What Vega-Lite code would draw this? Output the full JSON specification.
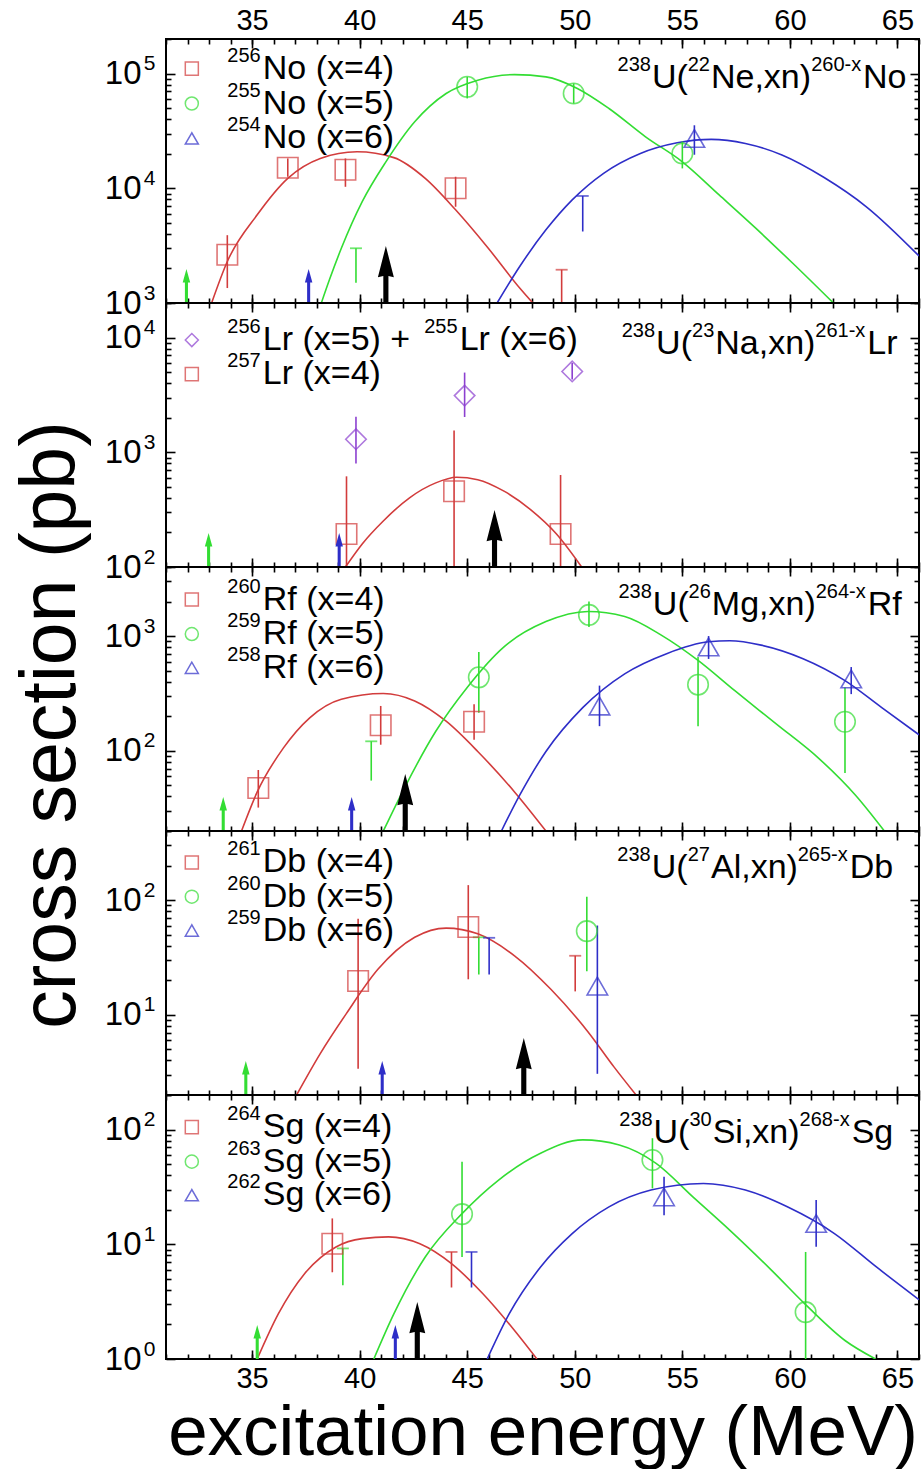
{
"$schema": "https://vega.github.io/schema/vega-lite/v6.json",
"background": "white",
"padding": {"left": 13, "top": 5, "right": 5, "bottom": 0},
"title": {"text": "cross section (pb)", "orient": "left", "anchor": "middle", "fontSize": 77, "font": "Liberation Sans", "fontWeight": "normal", "color": "black", "offset": 12, "dx": 12},
"spacing": 0,
"bounds": "flush",
"resolve": {"scale": {"x": "independent", "y": "independent", "color": "independent", "shape": "independent"}},
"config": {
  "view": {"stroke": "black", "strokeWidth": 2},
  "axis": {"labelFont": "Liberation Sans", "titleFont": "Liberation Sans", "labelColor": "black", "titleColor": "black", "tickColor": "black", "domain": false, "grid": false, "tickWidth": 1.6, "labelFlush": false, "labelOverlap": false, "titleFontWeight": "normal"},
  "text": {"font": "Liberation Sans", "color": "black"}
},
"datasets": {
"curves": [
{"p":1,"s":"r","E":33.12,"v":1000},{"p":1,"s":"r","E":33.85,"v":2300},{"p":1,"s":"r","E":35.24,"v":5870},{"p":1,"s":"r","E":36.66,"v":12200},{"p":1,"s":"r","E":38.17,"v":18200},{"p":1,"s":"r","E":39.88,"v":20800},{"p":1,"s":"r","E":41.59,"v":18500},{"p":1,"s":"r","E":43.05,"v":12200},{"p":1,"s":"r","E":44.46,"v":6490},{"p":1,"s":"r","E":45.98,"v":3000},{"p":1,"s":"r","E":47.44,"v":1350},{"p":1,"s":"r","E":48.05,"v":1000},
{"p":1,"s":"g","E":38.22,"v":1000},{"p":1,"s":"g","E":38.6,"v":1600},{"p":1,"s":"g","E":39.15,"v":3000},{"p":1,"s":"g","E":40.12,"v":7650},{"p":1,"s":"g","E":41.22,"v":17000},{"p":1,"s":"g","E":42.56,"v":38000},{"p":1,"s":"g","E":44.02,"v":67000},{"p":1,"s":"g","E":45.49,"v":87500},{"p":1,"s":"g","E":47.2,"v":97900},{"p":1,"s":"g","E":48.66,"v":93500},{"p":1,"s":"g","E":50.12,"v":74100},{"p":1,"s":"g","E":51.59,"v":49600},{"p":1,"s":"g","E":53.29,"v":28100},{"p":1,"s":"g","E":55.0,"v":17000},{"p":1,"s":"g","E":56.71,"v":8750},{"p":1,"s":"g","E":58.41,"v":4490},{"p":1,"s":"g","E":60.12,"v":2230},{"p":1,"s":"g","E":62.02,"v":1000},
{"p":1,"s":"b","E":46.39,"v":1000},{"p":1,"s":"b","E":47.44,"v":2080},{"p":1,"s":"b","E":48.66,"v":4340},{"p":1,"s":"b","E":49.88,"v":7920},{"p":1,"s":"b","E":51.34,"v":13500},{"p":1,"s":"b","E":53.05,"v":20100},{"p":1,"s":"b","E":54.76,"v":24900},{"p":1,"s":"b","E":56.34,"v":26700},{"p":1,"s":"b","E":57.93,"v":24600},{"p":1,"s":"b","E":59.63,"v":19500},{"p":1,"s":"b","E":61.59,"v":12400},{"p":1,"s":"b","E":63.54,"v":6930},{"p":1,"s":"b","E":66.0,"v":2570},
{"p":2,"s":"r","E":39.34,"v":100},{"p":2,"s":"r","E":40.12,"v":159},{"p":2,"s":"r","E":41.1,"v":252},{"p":2,"s":"r","E":42.32,"v":401},{"p":2,"s":"r","E":43.54,"v":541},{"p":2,"s":"r","E":44.51,"v":605},{"p":2,"s":"r","E":45.49,"v":577},{"p":2,"s":"r","E":46.71,"v":458},{"p":2,"s":"r","E":47.93,"v":318},{"p":2,"s":"r","E":49.15,"v":194},{"p":2,"s":"r","E":50.32,"v":100},
{"p":3,"s":"r","E":34.51,"v":20},{"p":3,"s":"r","E":35.24,"v":43.8},{"p":3,"s":"r","E":36.46,"v":106},{"p":3,"s":"r","E":37.68,"v":194},{"p":3,"s":"r","E":39.15,"v":282},{"p":3,"s":"r","E":41.1,"v":316},{"p":3,"s":"r","E":42.56,"v":272},{"p":3,"s":"r","E":44.02,"v":181},{"p":3,"s":"r","E":45.49,"v":98.7},{"p":3,"s":"r","E":47.2,"v":43.8},{"p":3,"s":"r","E":48.66,"v":20},
{"p":3,"s":"g","E":41.1,"v":20},{"p":3,"s":"g","E":42.07,"v":46.9},{"p":3,"s":"g","E":43.54,"v":148},{"p":3,"s":"g","E":45.0,"v":357},{"p":3,"s":"g","E":46.71,"v":806},{"p":3,"s":"g","E":48.66,"v":1337},{"p":3,"s":"g","E":50.61,"v":1640},{"p":3,"s":"g","E":52.32,"v":1483},{"p":3,"s":"g","E":54.02,"v":1020},{"p":3,"s":"g","E":55.73,"v":614},{"p":3,"s":"g","E":57.44,"v":334},{"p":3,"s":"g","E":59.39,"v":170},{"p":3,"s":"g","E":61.34,"v":86},{"p":3,"s":"g","E":63.05,"v":41},{"p":3,"s":"g","E":64.39,"v":20},
{"p":3,"s":"b","E":46.59,"v":20},{"p":3,"s":"b","E":47.44,"v":41},{"p":3,"s":"b","E":48.66,"v":98.7},{"p":3,"s":"b","E":50.37,"v":238},{"p":3,"s":"b","E":52.32,"v":469},{"p":3,"s":"b","E":54.27,"v":703},{"p":3,"s":"b","E":56.22,"v":891},{"p":3,"s":"b","E":57.2,"v":910},{"p":3,"s":"b","E":58.66,"v":834},{"p":3,"s":"b","E":60.61,"v":635},{"p":3,"s":"b","E":62.56,"v":409},{"p":3,"s":"b","E":64.27,"v":238},{"p":3,"s":"b","E":66.0,"v":138},
{"p":4,"s":"r","E":37.07,"v":2},{"p":4,"s":"r","E":38.17,"v":4.59},{"p":4,"s":"r","E":39.39,"v":10.3},{"p":4,"s":"r","E":40.85,"v":24.9},{"p":4,"s":"r","E":42.56,"v":47.4},{"p":4,"s":"r","E":44.02,"v":57},{"p":4,"s":"r","E":45.49,"v":50.8},{"p":4,"s":"r","E":47.2,"v":32.7},{"p":4,"s":"r","E":48.9,"v":16.6},{"p":4,"s":"r","E":50.61,"v":7.13},{"p":4,"s":"r","E":51.83,"v":3.5},{"p":4,"s":"r","E":52.85,"v":2},
{"p":5,"s":"r","E":35.24,"v":1},{"p":5,"s":"r","E":36.22,"v":2.47},{"p":5,"s":"r","E":37.44,"v":5.54},{"p":5,"s":"r","E":38.9,"v":9.48},{"p":5,"s":"r","E":40.12,"v":11.2},{"p":5,"s":"r","E":41.34,"v":11.6},{"p":5,"s":"r","E":42.8,"v":10.1},{"p":5,"s":"r","E":44.27,"v":6.78},{"p":5,"s":"r","E":45.73,"v":3.7},{"p":5,"s":"r","E":47.2,"v":1.77},{"p":5,"s":"r","E":48.24,"v":1},
{"p":5,"s":"g","E":40.66,"v":1},{"p":5,"s":"g","E":41.59,"v":2.47},{"p":5,"s":"g","E":43.05,"v":7.75},{"p":5,"s":"g","E":44.76,"v":18.5},{"p":5,"s":"g","E":46.46,"v":36.3},{"p":5,"s":"g","E":48.41,"v":62.1},{"p":5,"s":"g","E":50.37,"v":81.2},{"p":5,"s":"g","E":52.07,"v":73.4},{"p":5,"s":"g","E":53.78,"v":50.8},{"p":5,"s":"g","E":55.49,"v":25.9},{"p":5,"s":"g","E":57.2,"v":13.3},{"p":5,"s":"g","E":59.15,"v":5.93},{"p":5,"s":"g","E":60.85,"v":2.83},{"p":5,"s":"g","E":62.56,"v":1.45},{"p":5,"s":"g","E":63.98,"v":1},
{"p":5,"s":"b","E":45.93,"v":1},{"p":5,"s":"b","E":46.95,"v":2.47},{"p":5,"s":"b","E":48.41,"v":6.34},{"p":5,"s":"b","E":49.88,"v":12.4},{"p":5,"s":"b","E":51.59,"v":21.2},{"p":5,"s":"b","E":53.54,"v":29.7},{"p":5,"s":"b","E":55.98,"v":33.9},{"p":5,"s":"b","E":57.93,"v":29.7},{"p":5,"s":"b","E":59.88,"v":21.2},{"p":5,"s":"b","E":62.07,"v":12.4},{"p":5,"s":"b","E":64.02,"v":6.34},{"p":5,"s":"b","E":66.0,"v":3.29}
],
"points": [
{"p":1,"s":"r","E":33.85,"v":2630,"lo":1350,"hi":3900},{"p":1,"s":"r","E":36.66,"v":15100,"lo":12600,"hi":18200},{"p":1,"s":"r","E":39.34,"v":14500,"lo":10300,"hi":18200},{"p":1,"s":"r","E":44.46,"v":10000,"lo":6900,"hi":12600},
{"p":1,"s":"g","E":45.0,"v":76600,"lo":60700,"hi":93500},{"p":1,"s":"g","E":49.95,"v":67000,"lo":54800,"hi":81800},{"p":1,"s":"g","E":55.0,"v":20100,"lo":14900,"hi":25500},
{"p":1,"s":"b","E":55.56,"v":27200,"lo":19600,"hi":35400},
{"p":2,"s":"p","E":39.83,"v":1300,"lo":800,"hi":2040},{"p":2,"s":"p","E":44.88,"v":3120,"lo":2030,"hi":4950},{"p":2,"s":"p","E":49.88,"v":5060,"lo":4300,"hi":6000},
{"p":2,"s":"r","E":39.39,"v":194,"lo":100,"hi":617},{"p":2,"s":"r","E":44.39,"v":458,"lo":100,"hi":1550},{"p":2,"s":"r","E":49.34,"v":194,"lo":100,"hi":634},
{"p":3,"s":"r","E":35.29,"v":47.4,"lo":32,"hi":68},{"p":3,"s":"r","E":40.98,"v":167,"lo":113,"hi":246},{"p":3,"s":"r","E":45.32,"v":179,"lo":125,"hi":255},
{"p":3,"s":"g","E":45.54,"v":437,"lo":215,"hi":728},{"p":3,"s":"g","E":50.66,"v":1530,"lo":1200,"hi":2000},{"p":3,"s":"g","E":55.73,"v":377,"lo":164,"hi":658},{"p":3,"s":"g","E":62.56,"v":179,"lo":64,"hi":357},
{"p":3,"s":"b","E":51.15,"v":246,"lo":164,"hi":370},{"p":3,"s":"b","E":56.22,"v":805,"lo":632,"hi":1000},{"p":3,"s":"b","E":62.85,"v":423,"lo":312,"hi":537},
{"p":4,"s":"r","E":39.93,"v":19.7,"lo":3.38,"hi":68.9},{"p":4,"s":"r","E":45.05,"v":58.2,"lo":20.4,"hi":135},
{"p":4,"s":"g","E":50.56,"v":53.6,"lo":24,"hi":107},
{"p":4,"s":"b","E":51.05,"v":17.8,"lo":3.06,"hi":60},
{"p":5,"s":"r","E":38.73,"v":10.1,"lo":5.7,"hi":16.8},
{"p":5,"s":"g","E":44.76,"v":18.3,"lo":7.75,"hi":52.5},{"p":5,"s":"g","E":53.61,"v":54.3,"lo":30.7,"hi":84},{"p":5,"s":"g","E":60.73,"v":2.56,"lo":1,"hi":8.57},
{"p":5,"s":"b","E":54.15,"v":25.9,"lo":17.9,"hi":38.8},{"p":5,"s":"b","E":61.22,"v":15.2,"lo":9.5,"hi":24.3}
],
"limits": [
{"p":1,"s":"r","E":49.39,"lo":1000,"hi":1950},{"p":1,"s":"g","E":39.83,"lo":1500,"hi":3000},{"p":1,"s":"b","E":50.37,"lo":4200,"hi":8570},
{"p":3,"s":"g","E":40.54,"lo":55,"hi":121},
{"p":4,"s":"r","E":50.02,"lo":16,"hi":32.7},{"p":4,"s":"g","E":45.54,"lo":22.5,"hi":47.4},{"p":4,"s":"b","E":46.02,"lo":22.5,"hi":46.9},
{"p":5,"s":"r","E":44.27,"lo":4.2,"hi":8.57},{"p":5,"s":"g","E":39.22,"lo":4.4,"hi":9.2},{"p":5,"s":"b","E":45.2,"lo":4.2,"hi":8.57}
],
"arrows": [
{"p":1,"s":"g","E":31.95},{"p":1,"s":"b","E":37.63},{"p":1,"s":"k","E":41.22},
{"p":2,"s":"g","E":32.98},{"p":2,"s":"b","E":39.05},{"p":2,"s":"k","E":46.27},
{"p":3,"s":"g","E":33.66},{"p":3,"s":"b","E":39.63},{"p":3,"s":"k","E":42.12},
{"p":4,"s":"g","E":34.71},{"p":4,"s":"b","E":41.05},{"p":4,"s":"k","E":47.63},
{"p":5,"s":"g","E":35.24},{"p":5,"s":"b","E":41.66},{"p":5,"s":"k","E":42.68}
],
"legend": [
{"p":1,"s":"r","v":110400},{"p":1,"s":"g","v":54800},{"p":1,"s":"b","v":27200},
{"p":2,"s":"p","v":9500},{"p":2,"s":"r","v":4800},
{"p":3,"s":"r","v":2080},{"p":3,"s":"g","v":1042},{"p":3,"s":"b","v":529},
{"p":4,"s":"r","v":213},{"p":4,"s":"g","v":107},{"p":4,"s":"b","v":54.3},
{"p":5,"s":"r","v":105},{"p":5,"s":"g","v":52.5},{"p":5,"s":"b","v":26.8}
],
"texts": [
{"p":1,"u":1,"E":33.85,"v":110400,"t":"256"},{"p":1,"u":0,"E":35.5,"v":110400,"t":"No (x=4)"},
{"p":1,"u":1,"E":33.85,"v":54800,"t":"255"},{"p":1,"u":0,"E":35.5,"v":54800,"t":"No (x=5)"},
{"p":1,"u":1,"E":33.85,"v":27200,"t":"254"},{"p":1,"u":0,"E":35.5,"v":27200,"t":"No (x=6)"},
{"p":1,"u":1,"E":51.99,"v":90600,"t":"238"},{"p":1,"u":0,"E":53.59,"v":90600,"t":"U("},{"p":1,"u":1,"E":55.25,"v":90600,"t":"22"},{"p":1,"u":0,"E":56.33,"v":90600,"t":"Ne,xn)"},{"p":1,"u":1,"E":60.99,"v":90600,"t":"260-x"},{"p":1,"u":0,"E":63.4,"v":90600,"t":"No"},
{"p":2,"u":1,"E":33.85,"v":9500,"t":"256"},{"p":2,"u":0,"E":35.5,"v":9500,"t":"Lr (x=5) +"},{"p":2,"u":1,"E":43.0,"v":9500,"t":"255"},{"p":2,"u":0,"E":44.65,"v":9500,"t":"Lr (x=6)"},
{"p":2,"u":1,"E":33.85,"v":4800,"t":"257"},{"p":2,"u":0,"E":35.5,"v":4800,"t":"Lr (x=4)"},
{"p":2,"u":1,"E":52.18,"v":8710,"t":"238"},{"p":2,"u":0,"E":53.78,"v":8710,"t":"U("},{"p":2,"u":1,"E":55.45,"v":8710,"t":"23"},{"p":2,"u":0,"E":56.53,"v":8710,"t":"Na,xn)"},{"p":2,"u":1,"E":61.18,"v":8710,"t":"261-x"},{"p":2,"u":0,"E":63.6,"v":8710,"t":"Lr"},
{"p":3,"u":1,"E":33.85,"v":2080,"t":"260"},{"p":3,"u":0,"E":35.5,"v":2080,"t":"Rf (x=4)"},
{"p":3,"u":1,"E":33.85,"v":1042,"t":"259"},{"p":3,"u":0,"E":35.5,"v":1042,"t":"Rf (x=5)"},
{"p":3,"u":1,"E":33.85,"v":529,"t":"258"},{"p":3,"u":0,"E":35.5,"v":529,"t":"Rf (x=6)"},
{"p":3,"u":1,"E":52.03,"v":1880,"t":"238"},{"p":3,"u":0,"E":53.63,"v":1880,"t":"U("},{"p":3,"u":1,"E":55.29,"v":1880,"t":"26"},{"p":3,"u":0,"E":56.37,"v":1880,"t":"Mg,xn)"},{"p":3,"u":1,"E":61.2,"v":1880,"t":"264-x"},{"p":3,"u":0,"E":63.62,"v":1880,"t":"Rf"},
{"p":4,"u":1,"E":33.85,"v":213,"t":"261"},{"p":4,"u":0,"E":35.5,"v":213,"t":"Db (x=4)"},
{"p":4,"u":1,"E":33.85,"v":107,"t":"260"},{"p":4,"u":0,"E":35.5,"v":107,"t":"Db (x=5)"},
{"p":4,"u":1,"E":33.85,"v":54.3,"t":"259"},{"p":4,"u":0,"E":35.5,"v":54.3,"t":"Db (x=6)"},
{"p":4,"u":1,"E":51.98,"v":190,"t":"238"},{"p":4,"u":0,"E":53.58,"v":190,"t":"U("},{"p":4,"u":1,"E":55.25,"v":190,"t":"27"},{"p":4,"u":0,"E":56.33,"v":190,"t":"Al,xn)"},{"p":4,"u":1,"E":60.36,"v":190,"t":"265-x"},{"p":4,"u":0,"E":62.78,"v":190,"t":"Db"},
{"p":5,"u":1,"E":33.85,"v":105,"t":"264"},{"p":5,"u":0,"E":35.5,"v":105,"t":"Sg (x=4)"},
{"p":5,"u":1,"E":33.85,"v":52.5,"t":"263"},{"p":5,"u":0,"E":35.5,"v":52.5,"t":"Sg (x=5)"},
{"p":5,"u":1,"E":33.85,"v":26.8,"t":"262"},{"p":5,"u":0,"E":35.5,"v":26.8,"t":"Sg (x=6)"},
{"p":5,"u":1,"E":52.07,"v":92.9,"t":"238"},{"p":5,"u":0,"E":53.66,"v":92.9,"t":"U("},{"p":5,"u":1,"E":55.33,"v":92.9,"t":"30"},{"p":5,"u":0,"E":56.41,"v":92.9,"t":"Si,xn)"},{"p":5,"u":1,"E":60.45,"v":92.9,"t":"268-x"},{"p":5,"u":0,"E":62.87,"v":92.9,"t":"Sg"}
]
},
"vconcat": [
{
 "width": 753, "height": 264,
 "resolve": {"axis": {"x": "independent", "y": "independent"}},
 "layer": [
  {"data": {"name": "curves"}, "transform": [{"filter": "datum.p == 1"}],
   "mark": {"type": "line", "interpolate": "monotone", "strokeWidth": 1.6, "clip": true},
   "encoding": {
    "x": {"field": "E", "type": "quantitative", "scale": {"domain": [31, 66], "nice": false, "zero": false}, "axis": {"orient": "bottom", "values": [35,40,45,50,55,60,65], "tickSize": -9, "labels": false, "title": null}},
    "y": {"field": "v", "type": "quantitative", "scale": {"type": "log", "domain": [1000, 200000], "nice": false}, "axis": {"orient": "left", "values": [1000,10000,100000], "tickSize": -9, "labelPadding": 34, "labelFontSize": 33, "labelExpr": "'10'", "title": null}},
    "color": {"field": "s", "type": "nominal", "scale": {"domain": ["r","g","b","p","k"], "range": ["#d23c3c","#33dd33","#2e2ec8","#8c40d0","#000000"]}, "legend": null}}},
  {"data": {"name": "points"}, "transform": [{"filter": "datum.p == 1"}],
   "mark": {"type": "rule", "strokeWidth": 1.6},
   "encoding": {
    "x": {"field": "E", "type": "quantitative", "scale": {"domain": [31, 66], "nice": false, "zero": false}, "axis": {"orient": "bottom", "values": [31,32,33,34,35,36,37,38,39,40,41,42,43,44,45,46,47,48,49,50,51,52,53,54,55,56,57,58,59,60,61,62,63,64,65,66], "tickSize": -5, "labels": false, "title": null}},
    "y": {"field": "lo", "type": "quantitative", "scale": {"type": "log", "domain": [1000, 200000], "nice": false}, "axis": {"orient": "left", "values": [2000,3000,4000,5000,6000,7000,8000,9000,20000,30000,40000,50000,60000,70000,80000,90000,200000], "tickSize": -5, "labels": false, "title": null}},
    "y2": {"field": "hi"},
    "color": {"field": "s", "type": "nominal", "scale": {"domain": ["r","g","b","p","k"], "range": ["#d23c3c","#33dd33","#2e2ec8","#8c40d0","#000000"]}, "legend": null}}},
  {"data": {"name": "limits"}, "transform": [{"filter": "datum.p == 1"}],
   "mark": {"type": "rule", "strokeWidth": 1.6},
   "encoding": {
    "x": {"field": "E", "type": "quantitative", "scale": {"domain": [31, 66], "nice": false, "zero": false}, "axis": {"orient": "top", "values": [35,40,45,50,55,60,65], "tickSize": -9, "labelFontSize": 29, "labelPadding": 13, "title": null}},
    "y": {"field": "lo", "type": "quantitative", "scale": {"type": "log", "domain": [1000, 200000], "nice": false}, "axis": {"orient": "right", "values": [1000,10000,100000], "tickSize": -9, "labels": false, "title": null}},
    "y2": {"field": "hi"},
    "color": {"field": "s", "type": "nominal", "scale": {"domain": ["r","g","b","p","k"], "range": ["#d23c3c","#33dd33","#2e2ec8","#8c40d0","#000000"]}, "legend": null}}},
  {"data": {"name": "limits"}, "transform": [{"filter": "datum.p == 1"}],
   "mark": {"type": "tick", "orient": "horizontal", "size": 12, "thickness": 1.8},
   "encoding": {
    "x": {"field": "E", "type": "quantitative", "scale": {"domain": [31, 66], "nice": false, "zero": false}, "axis": {"orient": "top", "values": [31,32,33,34,35,36,37,38,39,40,41,42,43,44,45,46,47,48,49,50,51,52,53,54,55,56,57,58,59,60,61,62,63,64,65,66], "tickSize": -5, "labels": false, "title": null}},
    "y": {"field": "hi", "type": "quantitative", "scale": {"type": "log", "domain": [1000, 200000], "nice": false}, "axis": {"orient": "right", "values": [2000,3000,4000,5000,6000,7000,8000,9000,20000,30000,40000,50000,60000,70000,80000,90000,200000], "tickSize": -5, "labels": false, "title": null}},
    "color": {"field": "s", "type": "nominal", "scale": {"domain": ["r","g","b","p","k"], "range": ["#d23c3c","#33dd33","#2e2ec8","#8c40d0","#000000"]}, "legend": null}}},
  {"data": {"name": "points"}, "transform": [{"filter": "datum.p == 1"}],
   "mark": {"type": "point", "filled": false, "strokeWidth": 1.6, "size": 420},
   "encoding": {
    "x": {"field": "E", "type": "quantitative", "scale": {"domain": [31, 66], "nice": false, "zero": false}, "axis": null},
    "y": {"field": "v", "type": "quantitative", "scale": {"type": "log", "domain": [1000, 200000], "nice": false}, "axis": {"orient": "left", "values": [1000,10000,100000], "ticks": false, "tickSize": 0, "labelPadding": 11, "labelFontSize": 21, "labelOffset": -10, "labelExpr": "'' + round(log(datum.value)/LN10)", "title": null}},
    "shape": {"field": "s", "type": "nominal", "scale": {"domain": ["r","g","b","p"], "range": ["square","circle","triangle-up","diamond"]}, "legend": null},
    "color": {"field": "s", "type": "nominal", "scale": {"domain": ["r","g","b","p","k"], "range": ["#d23c3c","#33dd33","#2e2ec8","#8c40d0","#000000"]}, "legend": null}}},
  {"data": {"name": "arrows"}, "transform": [{"filter": "datum.p == 1"}],
   "mark": {"type": "point", "filled": true, "opacity": 1, "strokeWidth": 0},
   "encoding": {
    "x": {"field": "E", "type": "quantitative", "scale": {"domain": [31, 66], "nice": false, "zero": false}, "axis": null},
    "y": {"datum": 1000, "type": "quantitative", "scale": {"type": "log", "domain": [1000, 200000], "nice": false}, "axis": null},
    "shape": {"condition": {"test": "datum.s == 'k'", "value": "M0,-2L0.28,-0.9L0.09,-0.95L0.09,0L-0.09,0L-0.09,-0.95L-0.28,-0.9Z"}, "value": "M0,-2L0.22,-1.2L0.09,-1.2L0.09,0L-0.09,0L-0.09,-1.2L-0.22,-1.2Z"},
    "size": {"condition": {"test": "datum.s == 'k'", "value": 3249}, "value": 1156},
    "color": {"field": "s", "type": "nominal", "scale": {"domain": ["r","g","b","p","k"], "range": ["#d23c3c","#33dd33","#2e2ec8","#8c40d0","#000000"]}, "legend": null}}},
  {"data": {"name": "legend"}, "transform": [{"filter": "datum.p == 1"}],
   "mark": {"type": "point", "filled": false, "strokeWidth": 1.5, "size": 170},
   "encoding": {
    "x": {"datum": 32.2, "type": "quantitative", "scale": {"domain": [31, 66], "nice": false, "zero": false}, "axis": null},
    "y": {"field": "v", "type": "quantitative", "scale": {"type": "log", "domain": [1000, 200000], "nice": false}, "axis": null},
    "shape": {"field": "s", "type": "nominal", "scale": {"domain": ["r","g","b","p"], "range": ["square","circle","triangle-up","diamond"]}, "legend": null},
    "color": {"field": "s", "type": "nominal", "scale": {"domain": ["r","g","b","p","k"], "range": ["#d23c3c","#33dd33","#2e2ec8","#8c40d0","#000000"]}, "legend": null}}},
  {"data": {"name": "texts"}, "transform": [{"filter": "datum.p == 1 && datum.u == 0"}],
   "mark": {"type": "text", "align": "left", "baseline": "middle", "fontSize": 34},
   "encoding": {
    "x": {"field": "E", "type": "quantitative", "scale": {"domain": [31, 66], "nice": false, "zero": false}, "axis": null},
    "y": {"field": "v", "type": "quantitative", "scale": {"type": "log", "domain": [1000, 200000], "nice": false}, "axis": null},
    "text": {"field": "t"}}},
  {"data": {"name": "texts"}, "transform": [{"filter": "datum.p == 1 && datum.u == 1"}],
   "mark": {"type": "text", "align": "left", "baseline": "middle", "fontSize": 20, "dy": -13},
   "encoding": {
    "x": {"field": "E", "type": "quantitative", "scale": {"domain": [31, 66], "nice": false, "zero": false}, "axis": null},
    "y": {"field": "v", "type": "quantitative", "scale": {"type": "log", "domain": [1000, 200000], "nice": false}, "axis": null},
    "text": {"field": "t"}}}
 ]
},
{
 "width": 753, "height": 264,
 "resolve": {"axis": {"x": "independent", "y": "independent"}},
 "layer": [
  {"data": {"name": "curves"}, "transform": [{"filter": "datum.p == 2"}],
   "mark": {"type": "line", "interpolate": "monotone", "strokeWidth": 1.6, "clip": true},
   "encoding": {
    "x": {"field": "E", "type": "quantitative", "scale": {"domain": [31, 66], "nice": false, "zero": false}, "axis": {"orient": "bottom", "values": [35,40,45,50,55,60,65], "tickSize": -9, "labels": false, "title": null}},
    "y": {"field": "v", "type": "quantitative", "scale": {"type": "log", "domain": [100, 20000], "nice": false}, "axis": {"orient": "left", "values": [100,1000,10000], "tickSize": -9, "labelPadding": 34, "labelFontSize": 33, "labelExpr": "'10'", "title": null}},
    "color": {"field": "s", "type": "nominal", "scale": {"domain": ["r","g","b","p","k"], "range": ["#d23c3c","#33dd33","#2e2ec8","#8c40d0","#000000"]}, "legend": null}}},
  {"data": {"name": "points"}, "transform": [{"filter": "datum.p == 2"}],
   "mark": {"type": "rule", "strokeWidth": 1.6},
   "encoding": {
    "x": {"field": "E", "type": "quantitative", "scale": {"domain": [31, 66], "nice": false, "zero": false}, "axis": {"orient": "bottom", "values": [31,32,33,34,35,36,37,38,39,40,41,42,43,44,45,46,47,48,49,50,51,52,53,54,55,56,57,58,59,60,61,62,63,64,65,66], "tickSize": -5, "labels": false, "title": null}},
    "y": {"field": "lo", "type": "quantitative", "scale": {"type": "log", "domain": [100, 20000], "nice": false}, "axis": {"orient": "left", "values": [200,300,400,500,600,700,800,900,2000,3000,4000,5000,6000,7000,8000,9000,20000], "tickSize": -5, "labels": false, "title": null}},
    "y2": {"field": "hi"},
    "color": {"field": "s", "type": "nominal", "scale": {"domain": ["r","g","b","p","k"], "range": ["#d23c3c","#33dd33","#2e2ec8","#8c40d0","#000000"]}, "legend": null}}},
  {"data": {"name": "limits"}, "transform": [{"filter": "datum.p == 2"}],
   "mark": {"type": "rule", "strokeWidth": 1.6},
   "encoding": {
    "x": {"field": "E", "type": "quantitative", "scale": {"domain": [31, 66], "nice": false, "zero": false}, "axis": {"orient": "top", "values": [35,40,45,50,55,60,65], "tickSize": -9, "labels": false, "title": null}},
    "y": {"field": "lo", "type": "quantitative", "scale": {"type": "log", "domain": [100, 20000], "nice": false}, "axis": {"orient": "right", "values": [100,1000,10000], "tickSize": -9, "labels": false, "title": null}},
    "y2": {"field": "hi"},
    "color": {"field": "s", "type": "nominal", "scale": {"domain": ["r","g","b","p","k"], "range": ["#d23c3c","#33dd33","#2e2ec8","#8c40d0","#000000"]}, "legend": null}}},
  {"data": {"name": "limits"}, "transform": [{"filter": "datum.p == 2"}],
   "mark": {"type": "tick", "orient": "horizontal", "size": 12, "thickness": 1.8},
   "encoding": {
    "x": {"field": "E", "type": "quantitative", "scale": {"domain": [31, 66], "nice": false, "zero": false}, "axis": {"orient": "top", "values": [31,32,33,34,35,36,37,38,39,40,41,42,43,44,45,46,47,48,49,50,51,52,53,54,55,56,57,58,59,60,61,62,63,64,65,66], "tickSize": -5, "labels": false, "title": null}},
    "y": {"field": "hi", "type": "quantitative", "scale": {"type": "log", "domain": [100, 20000], "nice": false}, "axis": {"orient": "right", "values": [200,300,400,500,600,700,800,900,2000,3000,4000,5000,6000,7000,8000,9000,20000], "tickSize": -5, "labels": false, "title": null}},
    "color": {"field": "s", "type": "nominal", "scale": {"domain": ["r","g","b","p","k"], "range": ["#d23c3c","#33dd33","#2e2ec8","#8c40d0","#000000"]}, "legend": null}}},
  {"data": {"name": "points"}, "transform": [{"filter": "datum.p == 2"}],
   "mark": {"type": "point", "filled": false, "strokeWidth": 1.6, "size": 420},
   "encoding": {
    "x": {"field": "E", "type": "quantitative", "scale": {"domain": [31, 66], "nice": false, "zero": false}, "axis": null},
    "y": {"field": "v", "type": "quantitative", "scale": {"type": "log", "domain": [100, 20000], "nice": false}, "axis": {"orient": "left", "values": [100,1000,10000], "ticks": false, "tickSize": 0, "labelPadding": 11, "labelFontSize": 21, "labelOffset": -10, "labelExpr": "'' + round(log(datum.value)/LN10)", "title": null}},
    "shape": {"field": "s", "type": "nominal", "scale": {"domain": ["r","g","b","p"], "range": ["square","circle","triangle-up","diamond"]}, "legend": null},
    "color": {"field": "s", "type": "nominal", "scale": {"domain": ["r","g","b","p","k"], "range": ["#d23c3c","#33dd33","#2e2ec8","#8c40d0","#000000"]}, "legend": null}}},
  {"data": {"name": "arrows"}, "transform": [{"filter": "datum.p == 2"}],
   "mark": {"type": "point", "filled": true, "opacity": 1, "strokeWidth": 0},
   "encoding": {
    "x": {"field": "E", "type": "quantitative", "scale": {"domain": [31, 66], "nice": false, "zero": false}, "axis": null},
    "y": {"datum": 100, "type": "quantitative", "scale": {"type": "log", "domain": [100, 20000], "nice": false}, "axis": null},
    "shape": {"condition": {"test": "datum.s == 'k'", "value": "M0,-2L0.28,-0.9L0.09,-0.95L0.09,0L-0.09,0L-0.09,-0.95L-0.28,-0.9Z"}, "value": "M0,-2L0.22,-1.2L0.09,-1.2L0.09,0L-0.09,0L-0.09,-1.2L-0.22,-1.2Z"},
    "size": {"condition": {"test": "datum.s == 'k'", "value": 3249}, "value": 1156},
    "color": {"field": "s", "type": "nominal", "scale": {"domain": ["r","g","b","p","k"], "range": ["#d23c3c","#33dd33","#2e2ec8","#8c40d0","#000000"]}, "legend": null}}},
  {"data": {"name": "legend"}, "transform": [{"filter": "datum.p == 2"}],
   "mark": {"type": "point", "filled": false, "strokeWidth": 1.5, "size": 170},
   "encoding": {
    "x": {"datum": 32.2, "type": "quantitative", "scale": {"domain": [31, 66], "nice": false, "zero": false}, "axis": null},
    "y": {"field": "v", "type": "quantitative", "scale": {"type": "log", "domain": [100, 20000], "nice": false}, "axis": null},
    "shape": {"field": "s", "type": "nominal", "scale": {"domain": ["r","g","b","p"], "range": ["square","circle","triangle-up","diamond"]}, "legend": null},
    "color": {"field": "s", "type": "nominal", "scale": {"domain": ["r","g","b","p","k"], "range": ["#d23c3c","#33dd33","#2e2ec8","#8c40d0","#000000"]}, "legend": null}}},
  {"data": {"name": "texts"}, "transform": [{"filter": "datum.p == 2 && datum.u == 0"}],
   "mark": {"type": "text", "align": "left", "baseline": "middle", "fontSize": 34},
   "encoding": {
    "x": {"field": "E", "type": "quantitative", "scale": {"domain": [31, 66], "nice": false, "zero": false}, "axis": null},
    "y": {"field": "v", "type": "quantitative", "scale": {"type": "log", "domain": [100, 20000], "nice": false}, "axis": null},
    "text": {"field": "t"}}},
  {"data": {"name": "texts"}, "transform": [{"filter": "datum.p == 2 && datum.u == 1"}],
   "mark": {"type": "text", "align": "left", "baseline": "middle", "fontSize": 20, "dy": -13},
   "encoding": {
    "x": {"field": "E", "type": "quantitative", "scale": {"domain": [31, 66], "nice": false, "zero": false}, "axis": null},
    "y": {"field": "v", "type": "quantitative", "scale": {"type": "log", "domain": [100, 20000], "nice": false}, "axis": null},
    "text": {"field": "t"}}}
 ]
},
{
 "width": 753, "height": 264,
 "resolve": {"axis": {"x": "independent", "y": "independent"}},
 "layer": [
  {"data": {"name": "curves"}, "transform": [{"filter": "datum.p == 3"}],
   "mark": {"type": "line", "interpolate": "monotone", "strokeWidth": 1.6, "clip": true},
   "encoding": {
    "x": {"field": "E", "type": "quantitative", "scale": {"domain": [31, 66], "nice": false, "zero": false}, "axis": {"orient": "bottom", "values": [35,40,45,50,55,60,65], "tickSize": -9, "labels": false, "title": null}},
    "y": {"field": "v", "type": "quantitative", "scale": {"type": "log", "domain": [20, 4000], "nice": false}, "axis": {"orient": "left", "values": [100,1000], "tickSize": -9, "labelPadding": 34, "labelFontSize": 33, "labelExpr": "'10'", "title": null}},
    "color": {"field": "s", "type": "nominal", "scale": {"domain": ["r","g","b","p","k"], "range": ["#d23c3c","#33dd33","#2e2ec8","#8c40d0","#000000"]}, "legend": null}}},
  {"data": {"name": "points"}, "transform": [{"filter": "datum.p == 3"}],
   "mark": {"type": "rule", "strokeWidth": 1.6},
   "encoding": {
    "x": {"field": "E", "type": "quantitative", "scale": {"domain": [31, 66], "nice": false, "zero": false}, "axis": {"orient": "bottom", "values": [31,32,33,34,35,36,37,38,39,40,41,42,43,44,45,46,47,48,49,50,51,52,53,54,55,56,57,58,59,60,61,62,63,64,65,66], "tickSize": -5, "labels": false, "title": null}},
    "y": {"field": "lo", "type": "quantitative", "scale": {"type": "log", "domain": [20, 4000], "nice": false}, "axis": {"orient": "left", "values": [20,30,40,50,60,70,80,90,200,300,400,500,600,700,800,900,2000,3000,4000], "tickSize": -5, "labels": false, "title": null}},
    "y2": {"field": "hi"},
    "color": {"field": "s", "type": "nominal", "scale": {"domain": ["r","g","b","p","k"], "range": ["#d23c3c","#33dd33","#2e2ec8","#8c40d0","#000000"]}, "legend": null}}},
  {"data": {"name": "limits"}, "transform": [{"filter": "datum.p == 3"}],
   "mark": {"type": "rule", "strokeWidth": 1.6},
   "encoding": {
    "x": {"field": "E", "type": "quantitative", "scale": {"domain": [31, 66], "nice": false, "zero": false}, "axis": {"orient": "top", "values": [35,40,45,50,55,60,65], "tickSize": -9, "labels": false, "title": null}},
    "y": {"field": "lo", "type": "quantitative", "scale": {"type": "log", "domain": [20, 4000], "nice": false}, "axis": {"orient": "right", "values": [100,1000], "tickSize": -9, "labels": false, "title": null}},
    "y2": {"field": "hi"},
    "color": {"field": "s", "type": "nominal", "scale": {"domain": ["r","g","b","p","k"], "range": ["#d23c3c","#33dd33","#2e2ec8","#8c40d0","#000000"]}, "legend": null}}},
  {"data": {"name": "limits"}, "transform": [{"filter": "datum.p == 3"}],
   "mark": {"type": "tick", "orient": "horizontal", "size": 12, "thickness": 1.8},
   "encoding": {
    "x": {"field": "E", "type": "quantitative", "scale": {"domain": [31, 66], "nice": false, "zero": false}, "axis": {"orient": "top", "values": [31,32,33,34,35,36,37,38,39,40,41,42,43,44,45,46,47,48,49,50,51,52,53,54,55,56,57,58,59,60,61,62,63,64,65,66], "tickSize": -5, "labels": false, "title": null}},
    "y": {"field": "hi", "type": "quantitative", "scale": {"type": "log", "domain": [20, 4000], "nice": false}, "axis": {"orient": "right", "values": [20,30,40,50,60,70,80,90,200,300,400,500,600,700,800,900,2000,3000,4000], "tickSize": -5, "labels": false, "title": null}},
    "color": {"field": "s", "type": "nominal", "scale": {"domain": ["r","g","b","p","k"], "range": ["#d23c3c","#33dd33","#2e2ec8","#8c40d0","#000000"]}, "legend": null}}},
  {"data": {"name": "points"}, "transform": [{"filter": "datum.p == 3"}],
   "mark": {"type": "point", "filled": false, "strokeWidth": 1.6, "size": 420},
   "encoding": {
    "x": {"field": "E", "type": "quantitative", "scale": {"domain": [31, 66], "nice": false, "zero": false}, "axis": null},
    "y": {"field": "v", "type": "quantitative", "scale": {"type": "log", "domain": [20, 4000], "nice": false}, "axis": {"orient": "left", "values": [100,1000], "ticks": false, "tickSize": 0, "labelPadding": 11, "labelFontSize": 21, "labelOffset": -10, "labelExpr": "'' + round(log(datum.value)/LN10)", "title": null}},
    "shape": {"field": "s", "type": "nominal", "scale": {"domain": ["r","g","b","p"], "range": ["square","circle","triangle-up","diamond"]}, "legend": null},
    "color": {"field": "s", "type": "nominal", "scale": {"domain": ["r","g","b","p","k"], "range": ["#d23c3c","#33dd33","#2e2ec8","#8c40d0","#000000"]}, "legend": null}}},
  {"data": {"name": "arrows"}, "transform": [{"filter": "datum.p == 3"}],
   "mark": {"type": "point", "filled": true, "opacity": 1, "strokeWidth": 0},
   "encoding": {
    "x": {"field": "E", "type": "quantitative", "scale": {"domain": [31, 66], "nice": false, "zero": false}, "axis": null},
    "y": {"datum": 20, "type": "quantitative", "scale": {"type": "log", "domain": [20, 4000], "nice": false}, "axis": null},
    "shape": {"condition": {"test": "datum.s == 'k'", "value": "M0,-2L0.28,-0.9L0.09,-0.95L0.09,0L-0.09,0L-0.09,-0.95L-0.28,-0.9Z"}, "value": "M0,-2L0.22,-1.2L0.09,-1.2L0.09,0L-0.09,0L-0.09,-1.2L-0.22,-1.2Z"},
    "size": {"condition": {"test": "datum.s == 'k'", "value": 3249}, "value": 1156},
    "color": {"field": "s", "type": "nominal", "scale": {"domain": ["r","g","b","p","k"], "range": ["#d23c3c","#33dd33","#2e2ec8","#8c40d0","#000000"]}, "legend": null}}},
  {"data": {"name": "legend"}, "transform": [{"filter": "datum.p == 3"}],
   "mark": {"type": "point", "filled": false, "strokeWidth": 1.5, "size": 170},
   "encoding": {
    "x": {"datum": 32.2, "type": "quantitative", "scale": {"domain": [31, 66], "nice": false, "zero": false}, "axis": null},
    "y": {"field": "v", "type": "quantitative", "scale": {"type": "log", "domain": [20, 4000], "nice": false}, "axis": null},
    "shape": {"field": "s", "type": "nominal", "scale": {"domain": ["r","g","b","p"], "range": ["square","circle","triangle-up","diamond"]}, "legend": null},
    "color": {"field": "s", "type": "nominal", "scale": {"domain": ["r","g","b","p","k"], "range": ["#d23c3c","#33dd33","#2e2ec8","#8c40d0","#000000"]}, "legend": null}}},
  {"data": {"name": "texts"}, "transform": [{"filter": "datum.p == 3 && datum.u == 0"}],
   "mark": {"type": "text", "align": "left", "baseline": "middle", "fontSize": 34},
   "encoding": {
    "x": {"field": "E", "type": "quantitative", "scale": {"domain": [31, 66], "nice": false, "zero": false}, "axis": null},
    "y": {"field": "v", "type": "quantitative", "scale": {"type": "log", "domain": [20, 4000], "nice": false}, "axis": null},
    "text": {"field": "t"}}},
  {"data": {"name": "texts"}, "transform": [{"filter": "datum.p == 3 && datum.u == 1"}],
   "mark": {"type": "text", "align": "left", "baseline": "middle", "fontSize": 20, "dy": -13},
   "encoding": {
    "x": {"field": "E", "type": "quantitative", "scale": {"domain": [31, 66], "nice": false, "zero": false}, "axis": null},
    "y": {"field": "v", "type": "quantitative", "scale": {"type": "log", "domain": [20, 4000], "nice": false}, "axis": null},
    "text": {"field": "t"}}}
 ]
},
{
 "width": 753, "height": 264,
 "resolve": {"axis": {"x": "independent", "y": "independent"}},
 "layer": [
  {"data": {"name": "curves"}, "transform": [{"filter": "datum.p == 4"}],
   "mark": {"type": "line", "interpolate": "monotone", "strokeWidth": 1.6, "clip": true},
   "encoding": {
    "x": {"field": "E", "type": "quantitative", "scale": {"domain": [31, 66], "nice": false, "zero": false}, "axis": {"orient": "bottom", "values": [35,40,45,50,55,60,65], "tickSize": -9, "labels": false, "title": null}},
    "y": {"field": "v", "type": "quantitative", "scale": {"type": "log", "domain": [2, 400], "nice": false}, "axis": {"orient": "left", "values": [10,100], "tickSize": -9, "labelPadding": 34, "labelFontSize": 33, "labelExpr": "'10'", "title": null}},
    "color": {"field": "s", "type": "nominal", "scale": {"domain": ["r","g","b","p","k"], "range": ["#d23c3c","#33dd33","#2e2ec8","#8c40d0","#000000"]}, "legend": null}}},
  {"data": {"name": "points"}, "transform": [{"filter": "datum.p == 4"}],
   "mark": {"type": "rule", "strokeWidth": 1.6},
   "encoding": {
    "x": {"field": "E", "type": "quantitative", "scale": {"domain": [31, 66], "nice": false, "zero": false}, "axis": {"orient": "bottom", "values": [31,32,33,34,35,36,37,38,39,40,41,42,43,44,45,46,47,48,49,50,51,52,53,54,55,56,57,58,59,60,61,62,63,64,65,66], "tickSize": -5, "labels": false, "title": null}},
    "y": {"field": "lo", "type": "quantitative", "scale": {"type": "log", "domain": [2, 400], "nice": false}, "axis": {"orient": "left", "values": [2,3,4,5,6,7,8,9,20,30,40,50,60,70,80,90,200,300,400], "tickSize": -5, "labels": false, "title": null}},
    "y2": {"field": "hi"},
    "color": {"field": "s", "type": "nominal", "scale": {"domain": ["r","g","b","p","k"], "range": ["#d23c3c","#33dd33","#2e2ec8","#8c40d0","#000000"]}, "legend": null}}},
  {"data": {"name": "limits"}, "transform": [{"filter": "datum.p == 4"}],
   "mark": {"type": "rule", "strokeWidth": 1.6},
   "encoding": {
    "x": {"field": "E", "type": "quantitative", "scale": {"domain": [31, 66], "nice": false, "zero": false}, "axis": {"orient": "top", "values": [35,40,45,50,55,60,65], "tickSize": -9, "labels": false, "title": null}},
    "y": {"field": "lo", "type": "quantitative", "scale": {"type": "log", "domain": [2, 400], "nice": false}, "axis": {"orient": "right", "values": [10,100], "tickSize": -9, "labels": false, "title": null}},
    "y2": {"field": "hi"},
    "color": {"field": "s", "type": "nominal", "scale": {"domain": ["r","g","b","p","k"], "range": ["#d23c3c","#33dd33","#2e2ec8","#8c40d0","#000000"]}, "legend": null}}},
  {"data": {"name": "limits"}, "transform": [{"filter": "datum.p == 4"}],
   "mark": {"type": "tick", "orient": "horizontal", "size": 12, "thickness": 1.8},
   "encoding": {
    "x": {"field": "E", "type": "quantitative", "scale": {"domain": [31, 66], "nice": false, "zero": false}, "axis": {"orient": "top", "values": [31,32,33,34,35,36,37,38,39,40,41,42,43,44,45,46,47,48,49,50,51,52,53,54,55,56,57,58,59,60,61,62,63,64,65,66], "tickSize": -5, "labels": false, "title": null}},
    "y": {"field": "hi", "type": "quantitative", "scale": {"type": "log", "domain": [2, 400], "nice": false}, "axis": {"orient": "right", "values": [2,3,4,5,6,7,8,9,20,30,40,50,60,70,80,90,200,300,400], "tickSize": -5, "labels": false, "title": null}},
    "color": {"field": "s", "type": "nominal", "scale": {"domain": ["r","g","b","p","k"], "range": ["#d23c3c","#33dd33","#2e2ec8","#8c40d0","#000000"]}, "legend": null}}},
  {"data": {"name": "points"}, "transform": [{"filter": "datum.p == 4"}],
   "mark": {"type": "point", "filled": false, "strokeWidth": 1.6, "size": 420},
   "encoding": {
    "x": {"field": "E", "type": "quantitative", "scale": {"domain": [31, 66], "nice": false, "zero": false}, "axis": null},
    "y": {"field": "v", "type": "quantitative", "scale": {"type": "log", "domain": [2, 400], "nice": false}, "axis": {"orient": "left", "values": [10,100], "ticks": false, "tickSize": 0, "labelPadding": 11, "labelFontSize": 21, "labelOffset": -10, "labelExpr": "'' + round(log(datum.value)/LN10)", "title": null}},
    "shape": {"field": "s", "type": "nominal", "scale": {"domain": ["r","g","b","p"], "range": ["square","circle","triangle-up","diamond"]}, "legend": null},
    "color": {"field": "s", "type": "nominal", "scale": {"domain": ["r","g","b","p","k"], "range": ["#d23c3c","#33dd33","#2e2ec8","#8c40d0","#000000"]}, "legend": null}}},
  {"data": {"name": "arrows"}, "transform": [{"filter": "datum.p == 4"}],
   "mark": {"type": "point", "filled": true, "opacity": 1, "strokeWidth": 0},
   "encoding": {
    "x": {"field": "E", "type": "quantitative", "scale": {"domain": [31, 66], "nice": false, "zero": false}, "axis": null},
    "y": {"datum": 2, "type": "quantitative", "scale": {"type": "log", "domain": [2, 400], "nice": false}, "axis": null},
    "shape": {"condition": {"test": "datum.s == 'k'", "value": "M0,-2L0.28,-0.9L0.09,-0.95L0.09,0L-0.09,0L-0.09,-0.95L-0.28,-0.9Z"}, "value": "M0,-2L0.22,-1.2L0.09,-1.2L0.09,0L-0.09,0L-0.09,-1.2L-0.22,-1.2Z"},
    "size": {"condition": {"test": "datum.s == 'k'", "value": 3249}, "value": 1156},
    "color": {"field": "s", "type": "nominal", "scale": {"domain": ["r","g","b","p","k"], "range": ["#d23c3c","#33dd33","#2e2ec8","#8c40d0","#000000"]}, "legend": null}}},
  {"data": {"name": "legend"}, "transform": [{"filter": "datum.p == 4"}],
   "mark": {"type": "point", "filled": false, "strokeWidth": 1.5, "size": 170},
   "encoding": {
    "x": {"datum": 32.2, "type": "quantitative", "scale": {"domain": [31, 66], "nice": false, "zero": false}, "axis": null},
    "y": {"field": "v", "type": "quantitative", "scale": {"type": "log", "domain": [2, 400], "nice": false}, "axis": null},
    "shape": {"field": "s", "type": "nominal", "scale": {"domain": ["r","g","b","p"], "range": ["square","circle","triangle-up","diamond"]}, "legend": null},
    "color": {"field": "s", "type": "nominal", "scale": {"domain": ["r","g","b","p","k"], "range": ["#d23c3c","#33dd33","#2e2ec8","#8c40d0","#000000"]}, "legend": null}}},
  {"data": {"name": "texts"}, "transform": [{"filter": "datum.p == 4 && datum.u == 0"}],
   "mark": {"type": "text", "align": "left", "baseline": "middle", "fontSize": 34},
   "encoding": {
    "x": {"field": "E", "type": "quantitative", "scale": {"domain": [31, 66], "nice": false, "zero": false}, "axis": null},
    "y": {"field": "v", "type": "quantitative", "scale": {"type": "log", "domain": [2, 400], "nice": false}, "axis": null},
    "text": {"field": "t"}}},
  {"data": {"name": "texts"}, "transform": [{"filter": "datum.p == 4 && datum.u == 1"}],
   "mark": {"type": "text", "align": "left", "baseline": "middle", "fontSize": 20, "dy": -13},
   "encoding": {
    "x": {"field": "E", "type": "quantitative", "scale": {"domain": [31, 66], "nice": false, "zero": false}, "axis": null},
    "y": {"field": "v", "type": "quantitative", "scale": {"type": "log", "domain": [2, 400], "nice": false}, "axis": null},
    "text": {"field": "t"}}}
 ]
},
{
 "width": 753, "height": 264,
 "resolve": {"axis": {"x": "independent", "y": "independent"}},
 "layer": [
  {"data": {"name": "curves"}, "transform": [{"filter": "datum.p == 5"}],
   "mark": {"type": "line", "interpolate": "monotone", "strokeWidth": 1.6, "clip": true},
   "encoding": {
    "x": {"field": "E", "type": "quantitative", "scale": {"domain": [31, 66], "nice": false, "zero": false}, "axis": {"orient": "bottom", "values": [35,40,45,50,55,60,65], "tickSize": -9, "labelFontSize": 29, "labelPadding": 14, "title": "excitation energy (MeV)", "titleFontSize": 71, "titlePadding": 5}},
    "y": {"field": "v", "type": "quantitative", "scale": {"type": "log", "domain": [1, 200], "nice": false}, "axis": {"orient": "left", "values": [1,10,100], "tickSize": -9, "labelPadding": 34, "labelFontSize": 33, "labelExpr": "'10'", "title": null}},
    "color": {"field": "s", "type": "nominal", "scale": {"domain": ["r","g","b","p","k"], "range": ["#d23c3c","#33dd33","#2e2ec8","#8c40d0","#000000"]}, "legend": null}}},
  {"data": {"name": "points"}, "transform": [{"filter": "datum.p == 5"}],
   "mark": {"type": "rule", "strokeWidth": 1.6},
   "encoding": {
    "x": {"field": "E", "type": "quantitative", "scale": {"domain": [31, 66], "nice": false, "zero": false}, "axis": {"orient": "bottom", "values": [31,32,33,34,35,36,37,38,39,40,41,42,43,44,45,46,47,48,49,50,51,52,53,54,55,56,57,58,59,60,61,62,63,64,65,66], "tickSize": -5, "labels": false, "title": null}},
    "y": {"field": "lo", "type": "quantitative", "scale": {"type": "log", "domain": [1, 200], "nice": false}, "axis": {"orient": "left", "values": [2,3,4,5,6,7,8,9,20,30,40,50,60,70,80,90,200], "tickSize": -5, "labels": false, "title": null}},
    "y2": {"field": "hi"},
    "color": {"field": "s", "type": "nominal", "scale": {"domain": ["r","g","b","p","k"], "range": ["#d23c3c","#33dd33","#2e2ec8","#8c40d0","#000000"]}, "legend": null}}},
  {"data": {"name": "limits"}, "transform": [{"filter": "datum.p == 5"}],
   "mark": {"type": "rule", "strokeWidth": 1.6},
   "encoding": {
    "x": {"field": "E", "type": "quantitative", "scale": {"domain": [31, 66], "nice": false, "zero": false}, "axis": {"orient": "top", "values": [35,40,45,50,55,60,65], "tickSize": -9, "labels": false, "title": null}},
    "y": {"field": "lo", "type": "quantitative", "scale": {"type": "log", "domain": [1, 200], "nice": false}, "axis": {"orient": "right", "values": [1,10,100], "tickSize": -9, "labels": false, "title": null}},
    "y2": {"field": "hi"},
    "color": {"field": "s", "type": "nominal", "scale": {"domain": ["r","g","b","p","k"], "range": ["#d23c3c","#33dd33","#2e2ec8","#8c40d0","#000000"]}, "legend": null}}},
  {"data": {"name": "limits"}, "transform": [{"filter": "datum.p == 5"}],
   "mark": {"type": "tick", "orient": "horizontal", "size": 12, "thickness": 1.8},
   "encoding": {
    "x": {"field": "E", "type": "quantitative", "scale": {"domain": [31, 66], "nice": false, "zero": false}, "axis": {"orient": "top", "values": [31,32,33,34,35,36,37,38,39,40,41,42,43,44,45,46,47,48,49,50,51,52,53,54,55,56,57,58,59,60,61,62,63,64,65,66], "tickSize": -5, "labels": false, "title": null}},
    "y": {"field": "hi", "type": "quantitative", "scale": {"type": "log", "domain": [1, 200], "nice": false}, "axis": {"orient": "right", "values": [2,3,4,5,6,7,8,9,20,30,40,50,60,70,80,90,200], "tickSize": -5, "labels": false, "title": null}},
    "color": {"field": "s", "type": "nominal", "scale": {"domain": ["r","g","b","p","k"], "range": ["#d23c3c","#33dd33","#2e2ec8","#8c40d0","#000000"]}, "legend": null}}},
  {"data": {"name": "points"}, "transform": [{"filter": "datum.p == 5"}],
   "mark": {"type": "point", "filled": false, "strokeWidth": 1.6, "size": 420},
   "encoding": {
    "x": {"field": "E", "type": "quantitative", "scale": {"domain": [31, 66], "nice": false, "zero": false}, "axis": null},
    "y": {"field": "v", "type": "quantitative", "scale": {"type": "log", "domain": [1, 200], "nice": false}, "axis": {"orient": "left", "values": [1,10,100], "ticks": false, "tickSize": 0, "labelPadding": 11, "labelFontSize": 21, "labelOffset": -10, "labelExpr": "'' + round(log(datum.value)/LN10)", "title": null}},
    "shape": {"field": "s", "type": "nominal", "scale": {"domain": ["r","g","b","p"], "range": ["square","circle","triangle-up","diamond"]}, "legend": null},
    "color": {"field": "s", "type": "nominal", "scale": {"domain": ["r","g","b","p","k"], "range": ["#d23c3c","#33dd33","#2e2ec8","#8c40d0","#000000"]}, "legend": null}}},
  {"data": {"name": "arrows"}, "transform": [{"filter": "datum.p == 5"}],
   "mark": {"type": "point", "filled": true, "opacity": 1, "strokeWidth": 0},
   "encoding": {
    "x": {"field": "E", "type": "quantitative", "scale": {"domain": [31, 66], "nice": false, "zero": false}, "axis": null},
    "y": {"datum": 1, "type": "quantitative", "scale": {"type": "log", "domain": [1, 200], "nice": false}, "axis": null},
    "shape": {"condition": {"test": "datum.s == 'k'", "value": "M0,-2L0.28,-0.9L0.09,-0.95L0.09,0L-0.09,0L-0.09,-0.95L-0.28,-0.9Z"}, "value": "M0,-2L0.22,-1.2L0.09,-1.2L0.09,0L-0.09,0L-0.09,-1.2L-0.22,-1.2Z"},
    "size": {"condition": {"test": "datum.s == 'k'", "value": 3249}, "value": 1156},
    "color": {"field": "s", "type": "nominal", "scale": {"domain": ["r","g","b","p","k"], "range": ["#d23c3c","#33dd33","#2e2ec8","#8c40d0","#000000"]}, "legend": null}}},
  {"data": {"name": "legend"}, "transform": [{"filter": "datum.p == 5"}],
   "mark": {"type": "point", "filled": false, "strokeWidth": 1.5, "size": 170},
   "encoding": {
    "x": {"datum": 32.2, "type": "quantitative", "scale": {"domain": [31, 66], "nice": false, "zero": false}, "axis": null},
    "y": {"field": "v", "type": "quantitative", "scale": {"type": "log", "domain": [1, 200], "nice": false}, "axis": null},
    "shape": {"field": "s", "type": "nominal", "scale": {"domain": ["r","g","b","p"], "range": ["square","circle","triangle-up","diamond"]}, "legend": null},
    "color": {"field": "s", "type": "nominal", "scale": {"domain": ["r","g","b","p","k"], "range": ["#d23c3c","#33dd33","#2e2ec8","#8c40d0","#000000"]}, "legend": null}}},
  {"data": {"name": "texts"}, "transform": [{"filter": "datum.p == 5 && datum.u == 0"}],
   "mark": {"type": "text", "align": "left", "baseline": "middle", "fontSize": 34},
   "encoding": {
    "x": {"field": "E", "type": "quantitative", "scale": {"domain": [31, 66], "nice": false, "zero": false}, "axis": null},
    "y": {"field": "v", "type": "quantitative", "scale": {"type": "log", "domain": [1, 200], "nice": false}, "axis": null},
    "text": {"field": "t"}}},
  {"data": {"name": "texts"}, "transform": [{"filter": "datum.p == 5 && datum.u == 1"}],
   "mark": {"type": "text", "align": "left", "baseline": "middle", "fontSize": 20, "dy": -13},
   "encoding": {
    "x": {"field": "E", "type": "quantitative", "scale": {"domain": [31, 66], "nice": false, "zero": false}, "axis": null},
    "y": {"field": "v", "type": "quantitative", "scale": {"type": "log", "domain": [1, 200], "nice": false}, "axis": null},
    "text": {"field": "t"}}}
 ]
}
]
}
